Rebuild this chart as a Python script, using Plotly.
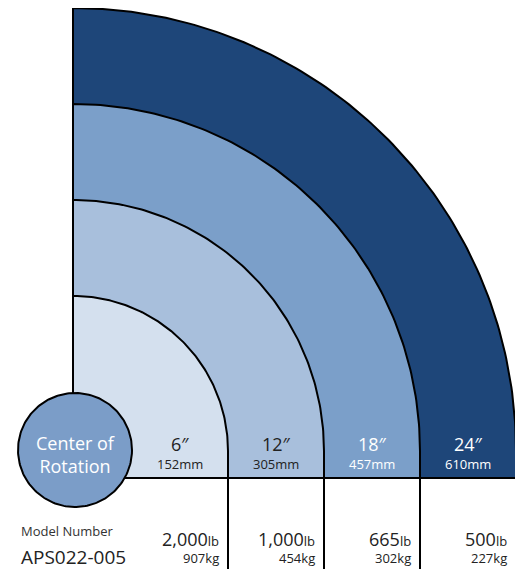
"""Rotational load chart: capacity vs. distance from center of rotation."""

import numpy as np
import plotly.graph_objects as go

# data
INCHES = [6, 12, 18, 24]
MM = [152, 305, 457, 610]
LB = ["2,000", "1,000", "665", "500"]
KG = [907, 454, 302, 227]
MODEL = "APS022-005"

BAND_COLORS = ["#d4e0ee", "#a8bfdc", "#7b9fc9", "#1e4679"]
LABEL_COLORS = ["#222222", "#222222", "#ffffff", "#ffffff"]
HUB_COLOR = "#7b9dc8"

# geometry (px): radius = hub + scale * inches
HUB_R = 59
SCALE = 16
BASE = -27      # bottom of the radius strip
BOTTOM = -118   # page bottom
PAD = 8         # browser body margin
W, H = 523 - PAD, 569 - PAD
FONT = "Open Sans"

radii = [HUB_R + SCALE * v for v in INCHES]

fig = go.Figure()

# bands, outer first
for r, col in reversed(list(zip(radii, BAND_COLORS))):
    t = np.linspace(0, np.pi / 2, 120)
    xs = np.concatenate([[0, r, r], r * np.cos(t), [0]])
    ys = np.concatenate([[BASE, BASE, 0], r * np.sin(t), [BASE]])
    fig.add_trace(go.Scatter(x=xs, y=ys, fill="toself", fillcolor=col,
                             mode="lines", line=dict(color="black", width=2),
                             hoverinfo="skip", showlegend=False))

# vertical dividers through the table
vx, vy = [], []
for r in radii:
    vx += [r, r, None]
    vy += [BASE, BOTTOM, None]
fig.add_trace(go.Scatter(x=vx, y=vy, mode="lines",
                         line=dict(color="black", width=2),
                         hoverinfo="skip", showlegend=False))

# hub circle
t = np.linspace(0, 2 * np.pi, 200)
fig.add_trace(go.Scatter(x=2 + 57 * np.cos(t), y=1 + 57 * np.sin(t),
                         fill="toself", fillcolor=HUB_COLOR, mode="lines",
                         line=dict(color="black", width=2),
                         hoverinfo="skip", showlegend=False))

ann = []
ann.append(dict(x=2, y=-3, text="Center of<br>Rotation", showarrow=False,
                font=dict(family=FONT, size=18, color="white")))

prev = HUB_R
for i, r in enumerate(radii):
    cx = (prev + r) / 2
    ann.append(dict(x=cx, y=7, text=f"{INCHES[i]}\u2033", showarrow=False,
                    font=dict(family=FONT, size=18, color=LABEL_COLORS[i])))
    ann.append(dict(x=cx, y=-13, text=f"{MM[i]}mm", showarrow=False,
                    font=dict(family=FONT, size=13, color=LABEL_COLORS[i])))
    ann.append(dict(x=r - 7, y=-88, xanchor="right",
                    text=f"{LB[i]}<span style='font-size:13px'>lb</span>",
                    showarrow=False,
                    font=dict(family=FONT, size=18, color="#222222")))
    ann.append(dict(x=r - 7, y=-107, xanchor="right", text=f"{KG[i]}kg",
                    showarrow=False,
                    font=dict(family=FONT, size=13, color="#222222")))
    prev = r

ann.append(dict(x=-54, y=-80, xanchor="left", text="Model Number",
                showarrow=False, font=dict(family=FONT, size=13, color="#333333")))
ann.append(dict(x=-54, y=-106, xanchor="left", text=MODEL,
                showarrow=False, font=dict(family=FONT, size=19, color="#222222")))

fig.update_layout(
    width=W, height=H, margin=dict(l=0, r=0, t=0, b=0),
    paper_bgcolor="white", plot_bgcolor="white",
    xaxis=dict(range=[-73 + PAD, 450], visible=False, fixedrange=True),
    yaxis=dict(range=[BOTTOM, 451 - PAD], visible=False, fixedrange=True),
    annotations=ann,
)

fig.write_html("out.html")
